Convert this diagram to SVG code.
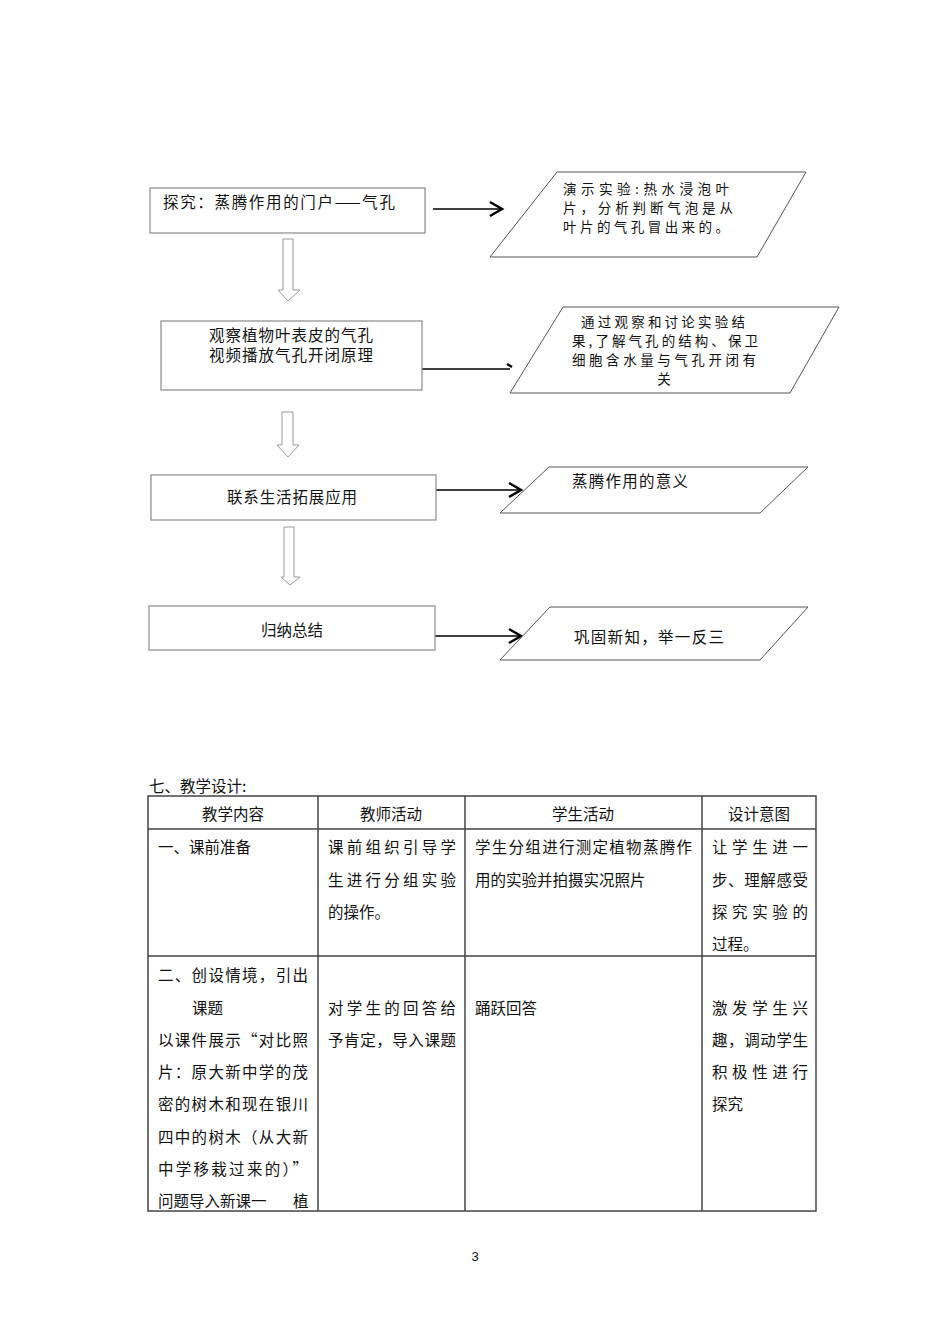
<svg xmlns="http://www.w3.org/2000/svg" width="950" height="1344" viewBox="0 0 950 1344">
<style>
text{font-family:"Noto Sans CJK SC","Liberation Serif",serif;font-size:15.5px;fill:#111}
.pt{font-size:13.5px}
.box{fill:#fff;stroke:#8a8a8a;stroke-width:1.2}
.para{fill:#fff;stroke:#555;stroke-width:1}
.hol{fill:#fff;stroke:#999;stroke-width:1}
.ln{stroke:#000;stroke-width:1.5;fill:none}
.hd{stroke:#000;stroke-width:2.5;fill:none}
.tb{stroke:#444;stroke-width:1.5;fill:none}
.c{text-anchor:middle}
</style>
<rect width="950" height="1344" fill="#fff"/>
<g id="connectors">
<line class="ln" x1="433" y1="209" x2="501" y2="209"/><polyline class="hd" points="490,202 502,209 490,216"/>
<line class="ln" x1="422" y1="369" x2="510" y2="369"/><line class="hd" x1="507" y1="364" x2="512" y2="367"/>
<line class="ln" x1="436" y1="490" x2="520" y2="490"/><polyline class="hd" points="509,483 521,490 509,497"/>
<line class="ln" x1="435" y1="636" x2="520" y2="636"/><polyline class="hd" points="509,629 521,636 509,643"/>
<polygon class="hol" points="283,239 293,239 293,290 300,290 288,301 278,290 283,290"/>
<polygon class="hol" points="282,412 293,412 293,445 299,445 288,457 277,445 282,445"/>
<polygon class="hol" points="284,527 294,527 294,577 300,577 290,585 281,577 284,577"/>
</g>
<g id="n1"><rect class="box" x="150" y="188" width="275" height="45"/><text x="163" y="208" textLength="232">探究：蒸腾作用的门户——气孔</text></g>
<g id="p1"><polygon class="para" points="557,172 806,172 757,257 490,257"/>
<text class="pt" x="563" y="194" textLength="166">演示实验:热水浸泡叶</text>
<text class="pt" x="563" y="213" textLength="170">片，分析判断气泡是从</text>
<text class="pt" x="563" y="232" textLength="166">叶片的气孔冒出来的。</text></g>
<g id="n2"><rect class="box" x="161" y="321" width="261" height="69"/>
<text x="209" y="341" textLength="164">观察植物叶表皮的气孔</text>
<text x="209" y="361" textLength="164">视频播放气孔开闭原理</text></g>
<g id="p2"><polygon class="para" points="563,307 839,307 790,393 510,393"/>
<text class="pt" x="581" y="327" textLength="164">通过观察和讨论实验结</text>
<text class="pt" x="572" y="346" textLength="186">果,了解气孔的结构、保卫</text>
<text class="pt" x="572" y="365" textLength="184">细胞含水量与气孔开闭有</text>
<text class="pt c" x="664" y="384">关</text></g>
<g id="n3"><rect class="box" x="151" y="475" width="285" height="45"/><text x="292" y="503" class="c" textLength="130">联系生活拓展应用</text></g>
<g id="p3"><polygon class="para" points="549,467 808,467 760,513 500,513"/><text x="572" y="487" textLength="116">蒸腾作用的意义</text></g>
<g id="n4"><rect class="box" x="149" y="606" width="286" height="44"/><text x="292" y="636" class="c">归纳总结</text></g>
<g id="p4"><polygon class="para" points="550,607 808,607 760,660 500,660"/><text x="574" y="643" textLength="150">巩固新知，举一反三</text></g>
<g id="table">
<text x="149" y="792">七、教学设计:</text>
<rect class="tb" x="148" y="796" width="668" height="415"/>
<line class="tb" x1="148" y1="829" x2="816" y2="829"/>
<line class="tb" x1="148" y1="956" x2="816" y2="956"/>
<line class="tb" x1="318" y1="796" x2="318" y2="1211"/>
<line class="tb" x1="465" y1="796" x2="465" y2="1211"/>
<line class="tb" x1="702" y1="796" x2="702" y2="1211"/>
<text x="233" y="820" class="c">教学内容</text>
<text x="391" y="820" class="c">教师活动</text>
<text x="583" y="820" class="c">学生活动</text>
<text x="759" y="820" class="c">设计意图</text>
<text x="158" y="853">一、课前准备</text>
<text x="328" y="853" textLength="128">课前组织引导学</text>
<text x="328" y="886" textLength="128">生进行分组实验</text>
<text x="328" y="918">的操作。</text>
<text x="475" y="853" textLength="217">学生分组进行测定植物蒸腾作</text>
<text x="475" y="886">用的实验并拍摄实况照片</text>
<text x="712" y="853" textLength="96">让学生进一</text>
<text x="712" y="886" textLength="96">步、理解感受</text>
<text x="712" y="918" textLength="96">探究实验的</text>
<text x="712" y="950">过程。</text>
<text x="158" y="981" textLength="150">二、创设情境，引出</text>
<text x="192" y="1014">课题</text>
<text x="158" y="1046" textLength="150">以课件展示“对比照</text>
<text x="158" y="1078" textLength="150">片：原大新中学的茂</text>
<text x="158" y="1110" textLength="150">密的树木和现在银川</text>
<text x="158" y="1143" textLength="150">四中的树木（从大新</text>
<text x="158" y="1175" textLength="150">中学移栽过来的）”</text>
<text x="158" y="1207">问题导入新课一</text><text x="293" y="1207">植</text>
<text x="328" y="1014" textLength="128">对学生的回答给</text>
<text x="328" y="1046" textLength="128">予肯定，导入课题</text>
<text x="475" y="1014">踊跃回答</text>
<text x="712" y="1014" textLength="96">激发学生兴</text>
<text x="712" y="1046" textLength="96">趣，调动学生</text>
<text x="712" y="1078" textLength="96">积极性进行</text>
<text x="712" y="1110">探究</text>
</g>
<text x="475" y="1261" class="c" style="font-family:'Liberation Sans',sans-serif;font-size:13px">3</text>
</svg>
